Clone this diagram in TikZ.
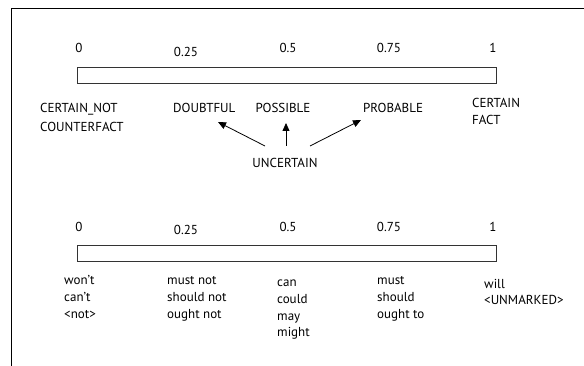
\documentclass[tikz,border=0pt]{standalone}
\usepackage{fontspec}
\setmainfont{PT Sans}
\usetikzlibrary{arrows.meta,calc}
\tikzset{
  lbl/.style={inner sep=0pt, anchor=base, font=\fontsize{13}{17}\selectfont},
  ml/.style={lbl, align=left, anchor=base west},
  bar/.style={draw=black!80, line width=0.8pt, fill=white},
  arr/.style={-{Triangle[length=8pt,width=7pt]}, line width=0.8pt},
}
\begin{document}
\begin{tikzpicture}[x=1pt,y=-1pt]
\useasboundingbox (0,0) rectangle (584,366);
\draw[line width=0.9pt] (11,366) -- (11,8) -- (584,8);
% top scale
\draw[bar] (77,67) rectangle (496,83);
\node[lbl] (t0) at (79,52.5) {0};
\node[lbl] (t25) at (186,56.5) {0.25};
\node[lbl] (t5) at (288,52.5) {0.5};
\node[lbl] (t75) at (389,52.5) {0.75};
\node[lbl] (t1) at (493,52.5) {1};
% multi-line nodes: base anchor = baseline of last line
\node[ml, font=\fontsize{13}{19}\selectfont] (cnot) at (40,131.5) {CERTAIN\_NOT\\COUNTERFACT};
\node[lbl,anchor=base west] (doubt) at (173,112.5) {DOUBTFUL};
\node[lbl] (poss) at (283,112.5) {POSSIBLE};
\node[lbl,anchor=base west] (prob) at (363,112.5) {PROBABLE};
\node[ml] (cfact) at (472,124.5) {CERTAIN\\FACT};
\node[lbl] (unc) at (285,167.5) {UNCERTAIN};
\draw[arr] ($(unc.base)+(-20,-21.5)$) -- ($(doubt.base west)+(45,9.5)$);
\draw[arr] ($(unc.base)+(1,-21.5)$) -- ($(poss.base)+(3,10.5)$);
\draw[arr] ($(unc.base)+(25,-21.5)$) -- ($(prob.base west)+(-2,7.5)$);
% bottom scale
\draw[bar] (77,245) rectangle (496,261);
\node[lbl] (b0) at (79,231.5) {0};
\node[lbl] (b25) at (186,234.5) {0.25};
\node[lbl] (b5) at (288,231.5) {0.5};
\node[lbl] (b75) at (389,231.5) {0.75};
\node[lbl] (b1) at (493,231.5) {1};
\node[ml] (w0) at (64,318) {won't\\can't\\<not>};
\node[ml] (w25) at (167,318) {must not\\should not\\ought not};
\node[ml] (w5) at (277,337) {can\\could\\may\\might};
\node[ml] (w75) at (377,318) {must\\should\\ought to};
\node[ml] (w1) at (484,305) {will\\<UNMARKED>};
\end{tikzpicture}
\end{document}
